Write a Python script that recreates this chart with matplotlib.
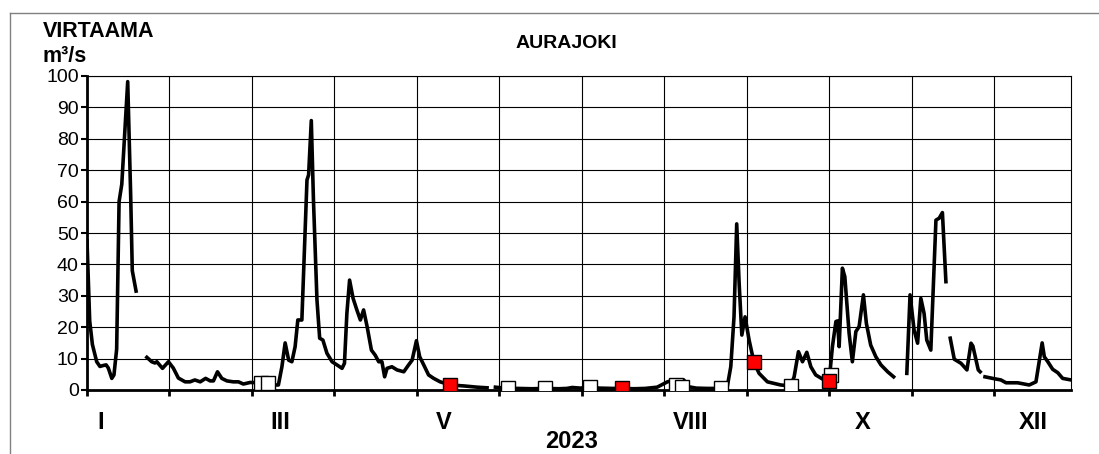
import numpy as np
import matplotlib
matplotlib.use('Agg')
import matplotlib.pyplot as plt

plt.rcParams['font.family'] = ['Liberation Sans', 'DejaVu Sans']

# daily discharge readings (day of year, m3/s); nan marks a gap in the record
paivat = [0, 1, 2, 3, 3.6, 4.8, 6, 7.1, 7.9, 9.2, 10, 11, 11.9, 12.9, 15.1, 16.2, 16.8, 18.2, np.nan,
          22.2, 24, 25.2, 25.9, 28, 30.2, 32, 33.9, 36.4, 38.2, 40, 42, 44, 45.7, 46.9, 48.4, 50, 51.9,
          54.3, 56.2, 58, 60.5, 64.4, 67.1, 69.2, 71, 72.3, 73.5, 74.8, 76, 77.2, 78.2, 79.7, 81.6, 82.2,
          83.2, 84, 85.3, 86.3, 87.5, 89, 90.9, 92.7, 94.6, 95.5, 96.4, 97.4, 98.7, 100.1, 101.4, 102.6,
          103.9, 105.5, 106.9, 108.2, 109.4, 110.4, 111.3, 113.1, 115, 117.5, 119.3, 120.6, 122.2, 123.4,
          124.9, 126.7, 128.6, 131, 134.8, 139.7, 144.7, 148.4, np.nan,
          151.5, 156, 160, 165, 170, 175, 178, 180, 183, 186.8, 190, 195, 198.8, 203, 207, 211.5, 215.3,
          218, 221.4, 222.7, 226, 230, 235, 237.5, 238.8, 240, 241, 241.9, 242.9, 244.1, 245.6, 247.4,
          249.3, 252.4, 257.3, 261, 262.3, 263.9, 265.4, 267, 268.5, 270.3, 273.4, 275.3, 276.5, 277.8,
          278.4, 279, 280.2, 281.1, 282.7, 283.9, 285.2, 286.4, 288, 289.1, 290.7, 292.6, 294.5, 297,
          299.2, np.nan,
          304.1, 305.3, 306.8, 308.1, 309.3, 310.5, 311.5, 313, 314.9, 316.1, 317.3, 318.6, np.nan,
          320.2, 321.7, 324.2, 326.4, 327.9, 328.6, 330.6, 331.3, np.nan,
          333.1, 336.5, 339, 340.9, 345.2, 349.5, 352, 354.3, 355.1, 356.4, 358.2, 360.1, 361.9, 365]
virtaama = [47.5, 22, 14.5, 11, 9, 7.5, 7.8, 8, 7, 3.7, 4.8, 13, 60, 65.5, 98.2, 62, 38, 31.5, np.nan,
            10.4, 9, 8.6, 9, 6.9, 9, 7, 3.8, 2.6, 2.6, 3.2, 2.6, 3.7, 2.9, 2.9, 5.8, 3.7, 2.9,
            2.6, 2.6, 1.9, 2.4, 2.3, 2.3, 1.6, 1.6, 7.4, 15, 9.5, 9, 13.8, 22.3, 22.3, 66.9, 68.5,
            85.8, 60.5, 28.7, 16.5, 15.9, 11.7, 9, 8, 6.9, 8.5, 24.4, 35, 29.2, 25.5, 22.3, 25.5,
            20.2, 12.7, 11.1, 9, 9, 4.2, 6.9, 7.4, 6.4, 5.8, 8, 9.5, 15.7, 10.6,
            8, 4.8, 3.7, 2.6, 1.6, 1.3, 0.9, 0.7, np.nan,
            0.9, 0.5, 0.5, 0.4, 0.5, 0.4, 0.5, 0.8, 0.6, 1.0, 0.6, 0.5, 0.5, 0.4, 0.5, 0.9, 2.6,
            3.2, 3.2, 1.1, 0.6, 0.5, 0.5, 1.1, 7.4, 23.3, 52.9, 34, 17.5, 23.3, 15.9, 8.8,
            5.3, 2.6, 1.6, 1.3, 4.2, 12.2, 9, 12, 7.4, 4.8, 3.2, 3.0, 13.8, 21.8,
            22, 13.8, 38.8, 36.1, 18, 9, 18.6, 20.2, 30.3, 21.2, 14.3, 10.6, 8, 5.8,
            4.2, np.nan,
            5.3, 30.3, 19.1, 14.9, 29.2, 24.4, 15.9, 12.7, 54.1, 54.7, 56.5, 34.5, np.nan,
            16.5, 9.8, 8.5, 6.4, 14.9, 14, 6.4, 5.8, np.nan,
            4.2, 3.6, 3.2, 2.3, 2.3, 1.6, 2.6, 15, 10.6, 9, 6.6, 5.5, 3.7, 3.2]

# measurements
mittaus_pv = [64.4, 67.1, 156, 170, 186.6, 218.5, 220.8, 235, 261, 275.9]
mittaus_q = [2.3, 2.3, 0.5, 0.5, 1.1, 1.6, 1.1, 0.5, 1.3, 4.8]
punainen_pv = [134.8, 198.6, 247.5, 275.3]
punainen_q = [1.6, 0.5, 8.8, 3.0]

kuukaudet = ['I', 'III', 'V', 'VIII', 'X', 'XII']
kk_paikat = [5, 71.7, 132.2, 224, 287.8, 351]

W, H = 1099, 454
fig = plt.figure(figsize=(W / 100, H / 100), dpi=100)
ax = fig.add_axes([87 / W, 1 - 390 / H, (1071 - 87) / W, (390 - 76) / H])

ax.plot(paivat, virtaama, color='black', lw=2.6, solid_joinstyle='round', zorder=3)
ax.plot(mittaus_pv, mittaus_q, ls='none', marker='s', ms=9.5, mfc='white', mec='black', mew=1, zorder=4)
ax.plot(punainen_pv, punainen_q, ls='none', marker='s', ms=9.5, mfc='#ff0000', mec='black', mew=1, zorder=5)

ax.set_xlim(0, 365)
ax.set_ylim(0, 100)
ax.set_yticks(range(0, 101, 10))
ax.set_xticks(np.arange(12) * 30.6)
ax.set_xticklabels([])
ax.grid(True, color='black', lw=0.8)
ax.tick_params(axis='y', labelsize=14, length=4, width=1.5, pad=2)
ax.tick_params(axis='x', length=4, width=2, direction='out')
for s in ['left', 'bottom']:
    ax.spines[s].set_linewidth(2)
for s in ['top', 'right']:
    ax.spines[s].set_linewidth(0.8)

for nimi, x in zip(kuukaudet, kk_paikat):
    ax.text(x, -0.102, nimi, transform=ax.get_xaxis_transform(), ha='center', va='center',
            fontsize=17, fontweight='bold')

fig.text(572 / W, 1 - 441 / H, '2023', ha='center', va='center', fontsize=17, fontweight='bold')
fig.text(566 / W, 1 - 44 / H, 'AURAJOKI', ha='center', va='center', fontsize=14, fontweight='bold')
fig.text(43 / W, 1 - 37 / H, 'VIRTAAMA', ha='left', va='baseline', fontsize=15.5, fontweight='bold')
fig.text(43 / W, 1 - 62 / H, 'm³/s', ha='left', va='baseline', fontsize=15.5, fontweight='bold')

# outer chart frame (top and left edges)
fig.add_artist(plt.Line2D([10 / W, 1], [1 - 12.5 / H, 1 - 12.5 / H], color='#808080', lw=1))
fig.add_artist(plt.Line2D([10 / W, 10 / W], [0, 1 - 12.5 / H], color='#808080', lw=1))

fig.savefig('out.png', dpi=100)
